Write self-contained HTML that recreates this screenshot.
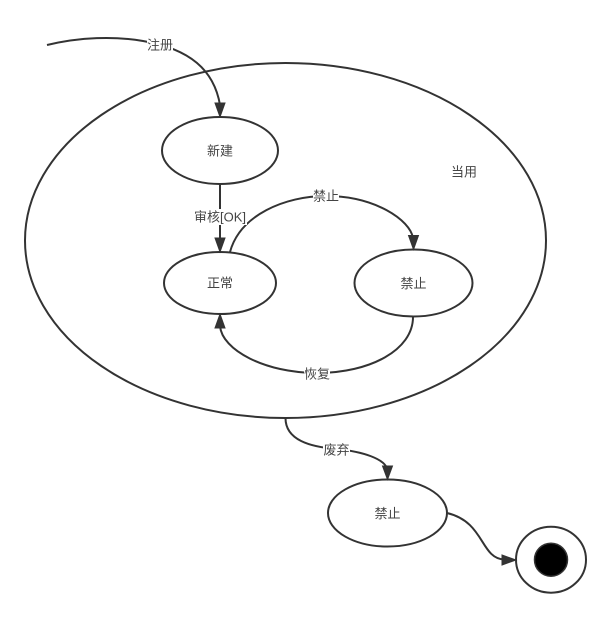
<!DOCTYPE html>
<html>
<head>
<meta charset="utf-8">
<style>
html,body{margin:0;padding:0;background:#fff;}
svg{display:block;}
text{font-family:"Liberation Sans","Noto Sans CJK SC",sans-serif;font-size:13px;fill:#444;text-anchor:middle;dominant-baseline:central;}
.s{fill:none;stroke:#333;stroke-width:2;}
.n{fill:#fff;stroke:#333;stroke-width:2;}
.a{fill:#333;stroke:#333;stroke-width:1;}
</style>
</head>
<body>
<svg width="611" height="618" viewBox="0 0 611 618" xmlns="http://www.w3.org/2000/svg">
<rect width="611" height="618" fill="#fff"/>
<ellipse class="n" cx="285.5" cy="240.5" rx="260.5" ry="177.5"/>
<path class="s" d="M47 45C80 37 115 36 143 41C190 49 214 70 220 105"/>
<polygon class="a" points="220,117 215,103 225,103"/>
<ellipse class="n" cx="220" cy="150.5" rx="58" ry="33.5"/>
<ellipse class="n" cx="220" cy="283" rx="56" ry="31"/>
<ellipse class="n" cx="413.5" cy="283" rx="59" ry="33.5"/>
<ellipse class="n" cx="387.5" cy="513" rx="59.5" ry="33.5"/>
<ellipse class="n" cx="551" cy="559.7" rx="35" ry="33"/>
<circle cx="551" cy="559.7" r="16.5" fill="#000" stroke="#333" stroke-width="1.5"/>
<path class="s" d="M220 184V240"/>
<polygon class="a" points="220,252 215,238 225,238"/>
<path class="s" d="M230 252C240 215 285 196 326 196C375 196 410 220 413 238"/>
<polygon class="a" points="413.5,249.5 408.500,235.500 418.500,235.500"/>
<path class="s" d="M413 317C413 350 370 373 317 373C265 373 222 350 220 326"/>
<polygon class="a" points="220,314 215,328 225,328"/>
<path class="s" d="M285.500 418C285.500 440 310 447 337 449C365 452 383 459 387 468"/>
<polygon class="a" points="387.500,479.500 382.500,466 392.500,466"/>
<path class="s" d="M447 513C485 522 480 558 504 559.500"/>
<polygon class="a" points="516,560 502,555 502,565"/>
<rect x="147" y="37" width="26" height="17" fill="#fff"/>
<text x="160" y="45">注册</text>
<text x="220" y="151">新建</text>
<rect x="193" y="209" width="54" height="16" fill="#fff"/>
<text x="220" y="217">审核[OK]</text>
<text x="220" y="283">正常</text>
<text x="413.500" y="283.500">禁止</text>
<rect x="313" y="188" width="26" height="16" fill="#fff"/>
<text x="326" y="196">禁止</text>
<rect x="304" y="366" width="26" height="16" fill="#fff"/>
<text x="317" y="374">恢复</text>
<text x="464" y="172">当用</text>
<rect x="323" y="442" width="27" height="16" fill="#fff"/>
<text x="336.500" y="450">废弃</text>
<text x="387.500" y="513.500">禁止</text>
</svg>
</body>
</html>
